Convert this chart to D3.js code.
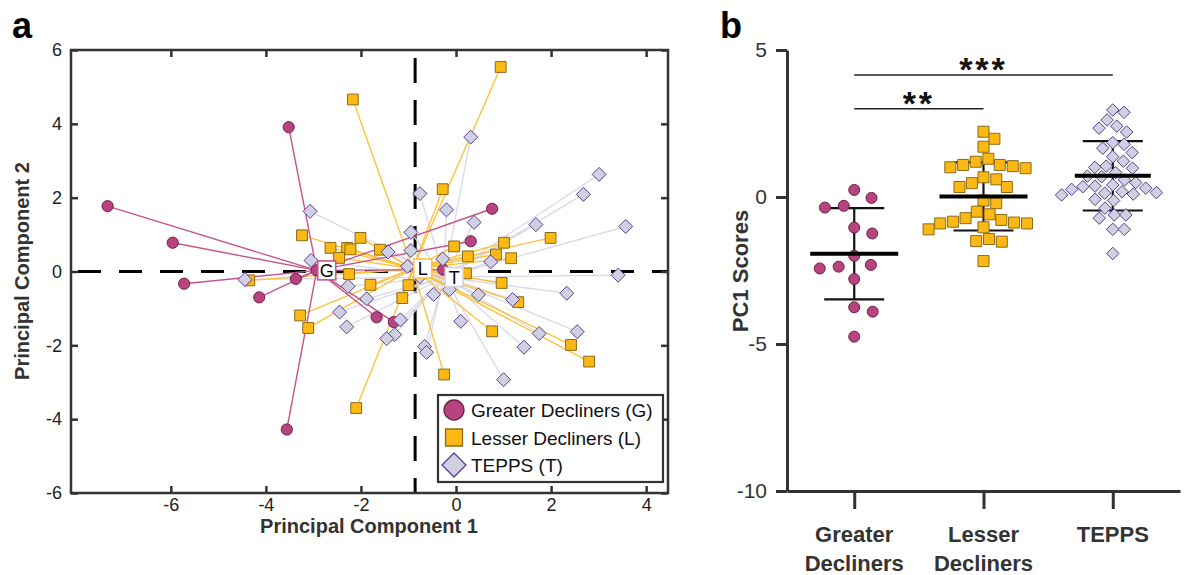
<!DOCTYPE html>
<html>
<head>
<meta charset="utf-8">
<script src="https://cdn.jsdelivr.net/npm/d3@7"></script>
<style>
  body { margin: 0; background: #fff; }
  text { font-family: "Liberation Sans", Arial, sans-serif; }
</style>
</head>
<body>
<script>
// ---- panel a: PCA scores (PC1, PC2) ----
var gdPcX = [-7.33, -5.96, -5.72, -4.14, -3.37, -3.52, -3.56, -1.67, -1.31, 0.76, 0.31, -0.27];
var gdPcY = [1.77, 0.78, -0.33, -0.70, -0.20, 3.91, -4.28, -1.24, -1.37, 1.70, 0.82, 0.05];

var ldPcX = [-2.17, -3.24, -2.64, -2.29, -2.22, -2.46, -2.01, -2.25, -4.35, -3.28, -3.11, -2.10, -1.60, -1.80, -1.13, -1.00,
             0.94, -0.28, -0.04, 0.25, 0.84, 1.01, 1.16, 1.99, 0.21, 0.96, 1.31, 0.76, 2.42, 2.80, -0.25];
var ldPcY = [4.66, 0.98, 0.64, 0.64, 0.60, 0.37, 0.91, -0.07, -0.24, -1.19, -1.53, -3.70, 0.59, -0.36, -0.72, -0.37,
             5.54, 2.23, 0.68, 0.41, 0.46, 0.78, 0.36, 0.91, -0.05, -0.31, -0.83, -1.62, -1.99, -2.44, -2.79];

var tpPcX = [-3.07, -3.05, -4.44, -2.27, -2.45, -2.30, -1.43, -0.95, -0.95, -1.02, -1.88, -1.17, -1.29, -1.46, 0.31, 3.01,
             2.68, -0.76, -0.20, 0.38, 1.68, 3.57, -0.28, 0.73, 3.41, -0.47, -0.14, 0.47, 1.19, 0.10, 1.75, 2.33,
             2.55, 1.43, -0.66, -0.62, 1.00, -0.76];
var tpPcY = [1.63, 0.30, -0.22, -0.40, -1.10, -1.50, 0.53, 1.06, 0.57, 0.14, -0.74, -1.31, -1.71, -1.82, 3.64, 2.63,
             2.09, 2.11, 1.67, 1.33, 1.27, 1.22, 0.34, 0.26, -0.10, -0.62, -0.49, -0.63, -0.76, -1.35, -1.68, -0.59,
             -1.63, -2.05, -2.03, -2.19, -2.93, -0.14];

var centroidNames = ["G", "L", "T"];
var centroidX = [-2.93, -0.91, -0.25];
var centroidY = [0.03, 0.08, -0.15];

var refLineX = -0.86;
var refLineY = 0;

var pcTicks = [-6, -4, -2, 0, 2, 4];
var pcTicksY = [-6, -4, -2, 0, 2, 4, 6];
var legendLabels = ["Greater Decliners (G)", "Lesser Decliners (L)", "TEPPS (T)"];

// ---- panel b: PC1 scores per group ----
var groupNames = ["Greater Decliners", "Lesser Decliners", "TEPPS"];
var gdPc1 = [0.24, -0.03, -0.30, -0.36, -1.04, -1.24, -2.00, -2.31, -2.37, -2.43, -2.79, -3.75, -3.90, -4.75];
var ldPc1 = [2.22, 1.98, 1.71, 1.30, 1.20, 1.09, 1.09, 1.05, 1.01, 0.98, 0.67, 0.60, 0.47, 0.34, 0.34, -0.12,
             -0.21, -0.50, -0.59, -0.72, -0.78, -0.84, -0.87, -0.90, -0.90, -1.03, -1.10, -1.43, -1.50, -1.52, -2.18];
var tpPc1 = [2.96, 2.88, 2.62, 2.41, 2.34, 2.21, 1.85, 1.79, 1.66, 1.51, 1.37, 1.22, 1.05, 1.01, 0.98, 0.83,
             0.71, 0.69, 0.58, 0.49, 0.41, 0.37, 0.35, 0.30, 0.26, 0.18, 0.15, 0.13, 0.10, 0.07, -0.08, -0.12,
             -0.38, -0.61, -0.61, -0.72, -1.10, -1.10, -1.92];
var groupMean = [-1.93, 0.02, 0.72];
var groupSd = [1.55, 1.16, 1.18];
var pc1Ticks = [-10, -5, 0, 5];
var sigPairs = [[0, 1, "**", 3.0], [0, 2, "***", 4.15]];

// ---- styles ----
var lineColor = ["#c4558f", "#fcc33c", "#dadbea"];
var fillColor = ["#b8447f", "#fdb913", "#d0d0e3"];
var strokeColor = ["#6e1f48", "#8a6a1b", "#5b3d91"];
var shapes = ["circle", "square", "diamond"];
var axisGray = "#333";

function markerPath(shape, s) {
    // s = half size
    if (shape === "circle") {
        return "M" + (-s) + ",0A" + s + "," + s + " 0 1,0 " + s + ",0A" + s + "," + s + " 0 1,0 " + (-s) + ",0Z";
    } else if (shape === "square") {
        return "M" + (-s) + "," + (-s) + "H" + s + "V" + s + "H" + (-s) + "Z";
    }
    var d = s * 1.25;
    return "M0," + (-d) + "L" + d + ",0L0," + d + "L" + (-d) + ",0Z";
}

var svg = d3.select("body").append("svg")
    .attr("width", 1186)
    .attr("height", 575);

// ================= panel a =================
var xA = d3.scaleLinear().domain([-8.1, 4.46]).range([71, 668]);
var yA = d3.scaleLinear().domain([-6, 6]).range([493, 50]);

var pa = svg.append("g");

var groupsA = [
    { x: gdPcX, y: gdPcY },
    { x: ldPcX, y: ldPcY },
    { x: tpPcX, y: tpPcY }
];

// reference dashed lines
pa.append("line")
    .attr("x1", xA(-8.1)).attr("x2", xA(4.46))
    .attr("y1", yA(refLineY)).attr("y2", yA(refLineY))
    .attr("stroke", "#000").attr("stroke-width", 3)
    .attr("stroke-dasharray", "23,18").attr("stroke-dashoffset", -7);
pa.append("line")
    .attr("x1", xA(refLineX)).attr("x2", xA(refLineX))
    .attr("y1", yA(6)).attr("y2", yA(-6))
    .attr("stroke", "#000").attr("stroke-width", 3)
    .attr("stroke-dasharray", "25,17").attr("stroke-dashoffset", -8);

// spokes (TEPPS behind, then lesser, then greater)
[2, 1, 0].forEach(function (g) {
    var grp = groupsA[g];
    grp.x.forEach(function (v, i) {
        pa.append("line")
            .attr("x1", xA(centroidX[g])).attr("y1", yA(centroidY[g]))
            .attr("x2", xA(v)).attr("y2", yA(grp.y[i]))
            .attr("stroke", lineColor[g]).attr("stroke-width", 1.4);
    });
});

// markers
[0, 1, 2].forEach(function (g) {
    var grp = groupsA[g];
    var size = g === 1 ? 5.4 : 5.6;
    grp.x.forEach(function (v, i) {
        pa.append("path")
            .attr("d", markerPath(shapes[g], size))
            .attr("transform", "translate(" + xA(v) + "," + yA(grp.y[i]) + ")")
            .attr("fill", fillColor[g])
            .attr("stroke", strokeColor[g])
            .attr("stroke-width", 1);
    });
});

// centroid markers + labels
centroidNames.forEach(function (name, g) {
    var cx = xA(centroidX[g]), cy = yA(centroidY[g]);
    if (g === 0) {
        pa.append("path")
            .attr("d", markerPath("circle", 5.6))
            .attr("transform", "translate(" + cx + "," + cy + ")")
            .attr("fill", fillColor[0]).attr("stroke", strokeColor[0]);
    }
    pa.append("rect")
        .attr("x", cx + 1).attr("y", cy - 9.5)
        .attr("width", 18).attr("height", 19)
        .attr("fill", "#fff")
        .attr("stroke", g === 2 ? "#cfd0e0" : lineColor[g])
        .attr("stroke-width", 1.6);
    pa.append("text")
        .attr("x", cx + 10).attr("y", cy + 6.5)
        .attr("text-anchor", "middle")
        .attr("font-size", 18)
        .attr("fill", "#000")
        .text(name);
});

// frame + ticks on all sides
var plain = function (d) { return String(d); };
var axB = pa.append("g").attr("transform", "translate(0,493)")
    .call(d3.axisBottom(xA).tickValues(pcTicks).tickFormat(plain).tickSize(-7).tickPadding(5).tickSizeOuter(0));
var axT = pa.append("g").attr("transform", "translate(0,50)")
    .call(d3.axisTop(xA).tickValues(pcTicks).tickSize(-7).tickFormat("").tickSizeOuter(0));
var axL = pa.append("g").attr("transform", "translate(71,0)")
    .call(d3.axisLeft(yA).tickValues(pcTicksY).tickFormat(plain).tickSize(-7).tickPadding(9).tickSizeOuter(0));
var axR = pa.append("g").attr("transform", "translate(668,0)")
    .call(d3.axisRight(yA).tickValues(pcTicksY).tickSize(-7).tickFormat("").tickSizeOuter(0));

[axB, axT, axL, axR].forEach(function (ax) {
    ax.select(".domain").remove();
    ax.selectAll(".tick line").attr("stroke", axisGray).attr("stroke-width", 2.5);
    ax.selectAll(".tick text")
        .attr("font-size", 18)
        .attr("fill", "#222")
        .style("font-family", "'Liberation Sans', Arial, sans-serif");
});

pa.append("rect")
    .attr("x", 71).attr("y", 50)
    .attr("width", 668 - 71).attr("height", 493 - 50)
    .attr("fill", "none").attr("stroke", axisGray).attr("stroke-width", 2.5);

// legend
var leg = pa.append("g");
leg.append("rect")
    .attr("x", 438).attr("y", 395)
    .attr("width", 225).attr("height", 87)
    .attr("fill", "#fff").attr("stroke", axisGray).attr("stroke-width", 2.2);
legendLabels.forEach(function (lab, g) {
    var ly = 410 + g * 27.5;
    leg.append("path")
        .attr("d", markerPath(shapes[g], g === 0 ? 10 : (g === 1 ? 8.5 : 9.6)))
        .attr("transform", "translate(454," + ly + ")")
        .attr("fill", fillColor[g])
        .attr("stroke", strokeColor[g])
        .attr("stroke-width", 1.3);
    leg.append("text")
        .attr("x", 471).attr("y", ly + 7)
        .attr("font-size", 19)
        .attr("fill", "#111")
        .text(lab);
});

// axis titles
pa.append("text")
    .attr("x", 369).attr("y", 533)
    .attr("text-anchor", "middle")
    .attr("font-size", 20).attr("font-weight", "bold")
    .attr("fill", "#333")
    .text("Principal Component 1");
pa.append("text")
    .attr("transform", "translate(29,271) rotate(-90)")
    .attr("text-anchor", "middle")
    .attr("font-size", 20).attr("font-weight", "bold")
    .attr("fill", "#333")
    .text("Principal Component 2");

svg.append("text")
    .attr("x", 12).attr("y", 38)
    .attr("font-size", 36).attr("font-weight", "bold")
    .text("a");

// ================= panel b =================
var xB = d3.scalePoint().domain(groupNames).range([787, 1180]).padding(0.52);
var yB = d3.scaleLinear().domain([-10, 5]).range([491, 50]);
var pb = svg.append("g");

var axYB = pb.append("g").attr("transform", "translate(787,0)")
    .call(d3.axisLeft(yB).tickValues(pc1Ticks).tickFormat(plain).tickSize(11).tickPadding(9).tickSizeOuter(0));
var axXB = pb.append("g").attr("transform", "translate(0,491)")
    .call(d3.axisBottom(xB).tickSize(18).tickSizeOuter(0).tickFormat(""));
[axYB, axXB].forEach(function (ax) {
    ax.select(".domain").attr("stroke", axisGray).attr("stroke-width", 3);
    ax.selectAll(".tick line").attr("stroke", axisGray).attr("stroke-width", 3);
});
axYB.selectAll(".tick text")
    .attr("font-size", 21).attr("fill", "#333")
    .style("font-family", "'Liberation Sans', Arial, sans-serif");

// category labels (two lines)
groupNames.forEach(function (name) {
    var words = name.split(" ");
    var t = pb.append("text")
        .attr("x", xB(name)).attr("y", 542)
        .attr("text-anchor", "middle")
        .attr("font-size", 22).attr("font-weight", "bold")
        .attr("fill", "#333");
    words.forEach(function (w, k) {
        t.append("tspan")
            .attr("x", xB(name))
            .attr("dy", k === 0 ? 0 : 29)
            .text(w);
    });
});

pb.append("text")
    .attr("transform", "translate(748,271) rotate(-90)")
    .attr("text-anchor", "middle")
    .attr("font-size", 22).attr("font-weight", "bold")
    .attr("fill", "#333")
    .text("PC1 Scores");

svg.append("text")
    .attr("x", 720).attr("y", 38)
    .attr("font-size", 36).attr("font-weight", "bold")
    .text("b");

// beeswarm: each point slides sideways until it no longer touches placed ones
function beeswarm(vals, d) {
    var placed = [];
    return vals.map(function (v) {
        var y = yB(v);
        var cands = [0];
        placed.forEach(function (p) {
            var dy = Math.abs(p.y - y);
            if (dy < d) {
                var dx = Math.sqrt(d * d - dy * dy);
                cands.push(p.off + dx, p.off - dx);
            }
        });
        cands.sort(function (a, b) { return Math.abs(a) - Math.abs(b) || b - a; });
        var off = 0;
        for (var k = 0; k < cands.length; k++) {
            var c = cands[k];
            var ok = placed.every(function (p) {
                var dx = p.off - c, dy = p.y - y;
                return dx * dx + dy * dy >= d * d - 0.01;
            });
            if (ok) { off = c; break; }
        }
        placed.push({ y: y, off: off });
        return { v: v, off: off };
    });
}

var groupVals = [gdPc1, ldPc1, tpPc1];
var swarmGap = [19, 13, 11.5];

// mean and SD bars
groupNames.forEach(function (name, g) {
    var cx = xB(name);
    var hi = yB(groupMean[g] + groupSd[g]), lo = yB(groupMean[g] - groupSd[g]);
    pb.append("line").attr("x1", cx).attr("x2", cx).attr("y1", hi).attr("y2", lo)
        .attr("stroke", "#111").attr("stroke-width", 2.2);
    [hi, lo].forEach(function (yy) {
        pb.append("line").attr("x1", cx - 30).attr("x2", cx + 30).attr("y1", yy).attr("y2", yy)
            .attr("stroke", "#111").attr("stroke-width", 2.2);
    });
});

groupVals.forEach(function (vals, g) {
    var cx = xB(groupNames[g]);
    beeswarm(vals, swarmGap[g]).forEach(function (p) {
        pb.append("path")
            .attr("d", markerPath(shapes[g], g === 2 ? 5.0 : 5.5))
            .attr("transform", "translate(" + (cx + p.off) + "," + yB(p.v) + ")")
            .attr("fill", fillColor[g])
            .attr("stroke", strokeColor[g])
            .attr("stroke-width", 1);
    });
});

groupNames.forEach(function (name, g) {
    var cx = xB(name);
    var half = g === 2 ? 38 : 44;
    pb.append("line").attr("x1", cx - half).attr("x2", cx + half)
        .attr("y1", yB(groupMean[g])).attr("y2", yB(groupMean[g]))
        .attr("stroke", "#000").attr("stroke-width", 4);
});

// significance brackets
sigPairs.forEach(function (s) {
    var y = yB(s[3]);
    pb.append("line")
        .attr("x1", xB(groupNames[s[0]])).attr("x2", xB(groupNames[s[1]]))
        .attr("y1", y).attr("y2", y)
        .attr("stroke", "#222").attr("stroke-width", 1.5);
    pb.append("text")
        .attr("x", (xB(groupNames[s[0]]) + xB(groupNames[s[1]])) / 2)
        .attr("y", y + 6)
        .attr("text-anchor", "middle")
        .attr("font-size", 34).attr("font-weight", "bold")
        .attr("letter-spacing", 3)
        .attr("fill", "#111")
        .text(s[2]);
});
</script>
</body>
</html>
